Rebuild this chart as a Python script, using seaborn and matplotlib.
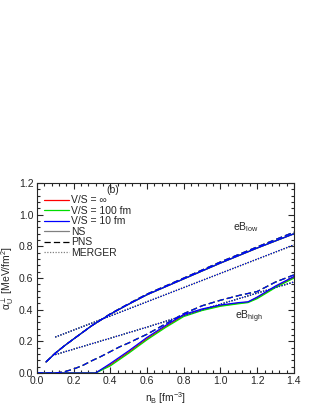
import matplotlib
matplotlib.use('Agg')
import matplotlib.pyplot as plt
import seaborn as sns
from matplotlib.lines import Line2D
from matplotlib.ticker import AutoMinorLocator, MultipleLocator

# eB_low branch
low_ns_n = [0.05, 0.1, 0.15, 0.2, 0.3, 0.4, 0.5, 0.6, 0.8, 1.0, 1.2, 1.4]
low_ns_v = [0.07, 0.125, 0.172, 0.215, 0.30, 0.372, 0.435, 0.495, 0.595, 0.695, 0.79, 0.88]
low_pns_v = [0.07, 0.125, 0.172, 0.215, 0.30, 0.374, 0.438, 0.499, 0.600, 0.702, 0.797, 0.89]
low_mer_n = [0.1, 0.4, 0.6, 0.8, 1.0, 1.2, 1.4]
low_mer_v = [0.227, 0.36, 0.45, 0.54, 0.63, 0.72, 0.81]

# eB_high branch
high_ns_n = [0.0, 0.32, 0.4, 0.5, 0.6, 0.7, 0.8, 0.9, 1.0, 1.1, 1.15, 1.2, 1.3, 1.4]
high_ns_blue = [0.0, 0.0, 0.06, 0.14, 0.225, 0.30, 0.37, 0.405, 0.43, 0.445, 0.45, 0.48, 0.55, 0.61]
high_ns_red = [0.0, 0.0, 0.052, 0.132, 0.217, 0.293, 0.363, 0.40, 0.426, 0.442, 0.448, 0.476, 0.545, 0.605]
high_ns_green = [0.0, 0.0, 0.045, 0.125, 0.21, 0.287, 0.357, 0.395, 0.422, 0.438, 0.445, 0.47, 0.54, 0.60]
high_pns_n = [0.0, 0.1, 0.15, 0.2, 0.25, 0.3, 0.35, 0.4, 0.45, 0.5, 0.55, 0.6,
              0.7, 0.8, 0.9, 1.0, 1.1, 1.2, 1.3, 1.4]
high_pns_v = [0.0, 0.0, 0.008, 0.025, 0.048, 0.078, 0.105, 0.135, 0.165, 0.19, 0.218, 0.245,
              0.31, 0.375, 0.425, 0.46, 0.49, 0.515, 0.575, 0.62]
high_mer_n = [0.1, 0.4, 0.6, 0.8, 1.0, 1.2, 1.4]
high_mer_v = [0.116, 0.22, 0.29, 0.363, 0.435, 0.505, 0.575]

colors = {'inf': 'red', '100': '#00dd00', '10': 'blue'}
vs_labels = {'inf': 'V/S = \u221e', '100': 'V/S = 100 fm', '10': 'V/S = 10 fm'}

sns.set_style('ticks')
plt.rcParams['font.family'] = ['Liberation Sans', 'DejaVu Sans']
plt.rcParams['font.size'] = 7.5
plt.rcParams['mathtext.fontset'] = 'custom'
plt.rcParams['mathtext.rm'] = 'Liberation Sans'
plt.rcParams['mathtext.it'] = 'Liberation Sans'

fig = plt.figure(figsize=(3.15, 4.07), dpi=100)
ax = fig.add_axes([0.117, 0.0835, 0.816, 0.4665])

lw = 0.9
dash = (0, (5, 2.5))
dot = (0, (1, 1.2))
high_ns = {'inf': high_ns_red, '100': high_ns_green, '10': high_ns_blue}
for key in ['inf', '100', '10']:
    c = colors[key]
    sns.lineplot(x=low_ns_n, y=low_ns_v, ax=ax, color=c, lw=lw, linestyle='-')
    sns.lineplot(x=low_ns_n, y=low_pns_v, ax=ax, color=c, lw=lw, linestyle=dash)
    sns.lineplot(x=low_mer_n, y=low_mer_v, ax=ax, color=c, lw=lw, linestyle=dot)
    sns.lineplot(x=high_ns_n, y=high_ns[key], ax=ax, color=c, lw=lw, linestyle='-')
    sns.lineplot(x=high_pns_n, y=high_pns_v, ax=ax, color=c, lw=lw, linestyle=dash)
    sns.lineplot(x=high_mer_n, y=high_mer_v, ax=ax, color=c, lw=lw, linestyle=dot)

ax.set_xlim(0.0, 1.4)
ax.set_ylim(0.0, 1.2)
ax.xaxis.set_major_locator(MultipleLocator(0.2))
ax.yaxis.set_major_locator(MultipleLocator(0.2))
ax.xaxis.set_minor_locator(AutoMinorLocator(5))
ax.yaxis.set_minor_locator(AutoMinorLocator(5))
ax.tick_params(which='both', direction='in', top=True, right=True, labelsize=7.5, width=0.8)
ax.tick_params(which='major', length=4, pad=2.5)
ax.tick_params(which='minor', length=2)
for s in ax.spines.values():
    s.set_linewidth(0.8)

ax.set_xlabel('n$_B$ [fm$^{-3}$]', fontsize=7.5, labelpad=3)
ax.set_ylabel('\u03b1$^{\\perp}_{U}$ [MeV/fm$^2$]', fontsize=7.5, labelpad=2)

ax.text(0.38, 1.14, '(b)', fontsize=7.5)
ax.text(1.07, 0.90, 'eB$_{low}$', fontsize=7.5)
ax.text(1.08, 0.34, 'eB$_{high}$', fontsize=7.5)

handles = [Line2D([], [], color=colors[k], lw=lw) for k in ['inf', '100', '10']]
handles += [Line2D([], [], color='gray', lw=lw, linestyle='-'),
            Line2D([], [], color='black', lw=lw, linestyle=dash),
            Line2D([], [], color='gray', lw=lw, linestyle=dot)]
labels = [vs_labels[k] for k in ['inf', '100', '10']] + ['NS', 'PNS', 'MERGER']
ax.legend(handles, labels, loc='upper left', bbox_to_anchor=(0.0, 0.975), frameon=False,
          fontsize=7.5, handlelength=2.4, handletextpad=0.2, labelspacing=0.05,
          borderaxespad=0.3)

fig.savefig('out.png', dpi=100)
